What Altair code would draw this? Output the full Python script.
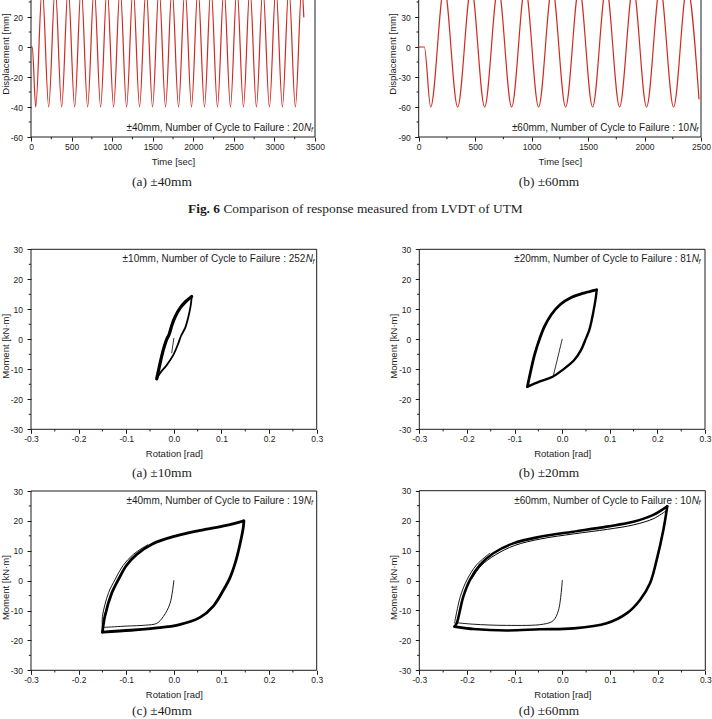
import altair as alt
import pandas as pd

FIG_W, FIG_H = 712, 719
SANS = "Liberation Sans"
SERIF = "Liberation Serif"
INK = "#1c1c1c"
RED = "#d02a22"
MINUS = "\u2212"

# ---------------------------------------------------------------
# Fig. 6 - UTM stroke history, turning points: time [s], displacement [mm]
# ---------------------------------------------------------------
hist40_time = [0, 16, 58, 138, 218, 298, 378, 458, 538, 618, 698, 778, 858, 938,
               1018, 1098, 1178, 1258, 1338, 1418, 1498, 1578, 1658, 1738, 1818,
               1898, 1978, 2058, 2138, 2218, 2298, 2378, 2458, 2538, 2618, 2698,
               2778, 2858, 2938, 3018, 3098, 3178, 3258, 3338, 3362]
hist40_disp = [0, 0, -40, 40, -40, 40, -40, 40, -40, 40, -40, 40, -40, 40,
               -40, 40, -40, 40, -40, 40, -40, 40, -40, 40, -40,
               40, -40, 40, -40, 40, -40, 40, -40, 40, -40, 40,
               -40, 40, -40, 40, -40, 40, -40, 40, 20]

hist60_time = [0, 50, 106, 226, 345, 465, 584, 704, 823, 943, 1062, 1182, 1301,
               1421, 1540, 1660, 1779, 1899, 2018, 2138, 2257, 2377, 2482]
hist60_disp = [0, 0, -60, 60, -60, 60, -60, 60, -60, 60, -60, 60, -60,
               60, -60, 60, -60, 60, -60, 60, -60, 60, -52]

# ---------------------------------------------------------------
# Fig. 7 - moment-rotation loops: rotation [rad], moment [kN.m]
# ---------------------------------------------------------------
# +-10 mm
m10_up_rot = [-0.036, -0.031, -0.023, -0.015, -0.010, -0.004, 0.003, 0.013, 0.025, 0.0375]
m10_up_mom = [-13.2, -9.5, -4.0, 0.0, 1.6, 4.8, 7.6, 10.4, 12.6, 14.3]
m10_dn_rot = [0.0375, 0.0355, 0.0305, 0.0235, 0.015, 0.0095, -0.001, -0.015, -0.029, -0.036]
m10_dn_mom = [14.3, 11.4, 7.5, 3.7, 1.1, -1.3, -5.2, -8.6, -11.3, -13.2]
m10_init_rot = [0.0, -0.0045]
m10_init_mom = [0.3, -4.5]

# +-20 mm
m20_up_rot = [-0.073, -0.067, -0.058, -0.047, -0.037, -0.023, -0.004, 0.020, 0.047, 0.0725]
m20_up_mom = [-15.8, -11.3, -5.2, 0.3, 4.3, 8.2, 11.6, 14.0, 15.5, 16.5]
m20_dn_rot = [0.0725, 0.071, 0.065, 0.057, 0.050, 0.0395, 0.0254, 0.001, -0.020, -0.048, -0.073]
m20_dn_mom = [16.5, 14.2, 8.7, 3.1, 0.3, -3.6, -6.9, -10.2, -12.5, -14.1, -15.8]
m20_init_rot = [0.0, -0.019]
m20_init_mom = [0.0, -12.5]

# +-40 mm
m40_up_rot = [-0.150, -0.145, -0.130, -0.116, -0.100, -0.078, -0.045, 0.005, 0.055, 0.110, 0.147]
m40_up_mom = [-17.2, -12.0, -4.0, 0.5, 5.0, 8.8, 12.3, 15.0, 16.8, 18.5, 20.0]
m40_dn_rot = [0.147, 0.146, 0.140, 0.130, 0.118, 0.104, 0.083, 0.055, 0.010, -0.040, -0.090, -0.150]
m40_dn_mom = [20.0, 18.0, 13.0, 6.5, 1.0, -3.2, -8.5, -12.3, -14.8, -15.9, -16.6, -17.2]
m40_first_rot = [-0.150, -0.150, -0.137, -0.123, -0.107, -0.085, -0.055]
m40_first_mom = [-15.6, -12.0, -4.0, 0.5, 5.0, 8.8, 12.0]
m40_init_rot = [0.0, -0.008, -0.022, -0.036, -0.060, -0.099, -0.145, -0.150]
m40_init_mom = [0.0, -7.6, -12.0, -14.3, -14.9, -15.2, -15.6, -15.6]

# +-60 mm
m60_up_rot = [-0.226, -0.2215, -0.2077, -0.1936, -0.1727, -0.1447, -0.103, -0.047,
              0.023, 0.093, 0.149, 0.191, 0.220]
m60_up_mom = [-15.4, -14.3, -5.4, 0.2, 5.2, 9.1, 12.4, 14.6, 16.3, 18.0, 19.6, 21.9, 24.8]
m60_dn_rot = [0.220, 0.219, 0.212, 0.198, 0.184, 0.163, 0.135, 0.093, 0.023, -0.047,
              -0.117, -0.187, -0.226]
m60_dn_mom = [24.8, 23.5, 16.9, 6.9, -0.9, -6.5, -11.0, -14.3, -16.0, -16.3, -16.7, -16.2, -15.4]
m60_late_rot = [-0.190, -0.170, -0.140, -0.100, -0.045, 0.025, 0.095, 0.150, 0.192, 0.217]
m60_late_mom = [0.6, 5.0, 8.6, 11.7, 13.9, 15.6, 17.1, 18.6, 20.7, 23.2]
m60_first_rot = [-0.226, -0.214, -0.200, -0.180, -0.152]
m60_first_mom = [-14.2, -5.4, 0.2, 5.2, 9.1]
m60_init_rot = [0.0, -0.008, -0.019, -0.040, -0.117, -0.187, -0.222]
m60_init_mom = [0.0, -9.9, -13.4, -14.6, -15.0, -14.6, -14.1]

# ---------------------------------------------------------------
# axis tick values (only the part of the top plots that is on the page)
# ---------------------------------------------------------------
time40_ticks = [0, 500, 1000, 1500, 2000, 2500, 3000, 3500]
time40_minor = [250, 750, 1250, 1750, 2250, 2750, 3250]
disp40_ticks = [-60, -40, -20, 0, 20]
disp40_minor = [-50, -30, -10, 10, 30]
time60_ticks = [0, 500, 1000, 1500, 2000, 2500]
time60_minor = [250, 750, 1250, 1750, 2250]
disp60_ticks = [-90, -60, -30, 0, 30]
disp60_minor = [-75, -45, -15, 15, 45]
rot_ticks = [-0.3, -0.2, -0.1, 0.0, 0.1, 0.2, 0.3]
rot_minor = [-0.25, -0.15, -0.05, 0.05, 0.15, 0.25]
mom_ticks = [-30, -20, -10, 0, 10, 20, 30]
mom_minor = [-25, -15, -5, 5, 15, 25]

# plot-area boxes on the page: left, right, bottom, top (pixels)
BOX_T40 = (31, 315, 137, -43)
BOX_T60 = (418.7, 701, 137, -43)
BOX_M10 = (31, 316.7, 429.3, 249.3)
BOX_M20 = (419.3, 705, 429.3, 249.3)
BOX_M40 = (31, 316.7, 670.3, 491)
BOX_M60 = (419.3, 705.3, 670.3, 490.7)


def make_panel(box, xdom, ydom, xt, xm, yt, ym, xfmt, yfmt, xtitle, ytitle, curves):
    """All layers of one panel; each layer carries the same scales."""
    x0, x1, yb, ytop = box

    def xs():
        return alt.Scale(domain=xdom, range=[x0, x1], nice=False, zero=False)

    def ys():
        return alt.Scale(domain=ydom, range=[yb, ytop], nice=False, zero=False)

    common = dict(
        domain=False, grid=False, tickSize=4, tickColor=INK, tickWidth=1,
        labelFont=SANS, labelFontSize=8.5, labelColor=INK,
        labelExpr=f"replace(datum.label, '{MINUS}', '-')",
        labelFlush=False, labelOverlap=False,
        titleFont=SANS, titleFontSize=9.5, titleFontWeight="normal", titleColor=INK,
        titleAlign="center", titleBaseline="middle",
    )
    xaxis = alt.Axis(orient="bottom", offset=yb - FIG_H, values=xt, format=xfmt,
                     labelPadding=1.5, title=xtitle, titleAngle=0,
                     titleX=(x0 + x1) / 2, titleY=24.5, **common)
    yaxis = alt.Axis(orient="left", offset=-x0, values=yt, format=yfmt,
                     labelPadding=4.5, title=ytitle, titleAngle=270,
                     titleX=-26, titleY=(yb + ytop) / 2 + 6.5, **common)

    frame_df = pd.DataFrame({"x": [xdom[0]], "x2": [xdom[1]], "y": [ydom[0]], "y2": [ydom[1]]})
    frame = alt.Chart(frame_df).mark_rect(filled=False, stroke=INK, strokeWidth=1).encode(
        x=alt.X("x:Q", scale=xs(), axis=xaxis), x2="x2:Q",
        y=alt.Y("y:Q", scale=ys(), axis=yaxis), y2="y2:Q",
    )
    xminor = alt.Chart(pd.DataFrame({"x": xm})).mark_rule(color=INK, strokeWidth=1).encode(
        x=alt.X("x:Q", scale=xs(), axis=None), y=alt.value(yb), y2=alt.value(yb + 2.2)
    )
    yminor = alt.Chart(pd.DataFrame({"y": ym})).mark_rule(color=INK, strokeWidth=1).encode(
        y=alt.Y("y:Q", scale=ys(), axis=None), x=alt.value(x0 - 2.2), x2=alt.value(x0)
    )
    layers = [frame, xminor, yminor]
    for cx, cy, color, width, interp in curves:
        df = pd.DataFrame({"x": cx, "y": cy, "i": list(range(len(cx)))})
        layers.append(
            alt.Chart(df).mark_line(color=color, strokeWidth=width, interpolate=interp,
                                    strokeJoin="round", strokeCap="round").encode(
                x=alt.X("x:Q", scale=xs(), axis=None),
                y=alt.Y("y:Q", scale=ys(), axis=None),
                order="i:Q",
            )
        )
    return layers


def text(s, x, y, size, font=SANS, align="center", style="normal", weight="normal", dy=0):
    return alt.Chart(pd.DataFrame({"s": [s]})).mark_text(
        font=font, fontSize=size, align=align, baseline="middle",
        fontStyle=style, fontWeight=weight, color=INK, dy=dy,
    ).encode(x=alt.value(x), y=alt.value(y), text="s:N")


def failure_note(amp, n, x_end, y):
    return [
        text(f"±{amp}mm, Number of Cycle to Failure : {n}", x_end - 9.6, y, 10, align="right"),
        text("N", x_end - 9.3, y, 10, align="left", style="italic"),
        text("f", x_end - 2.4, y, 7, align="left", style="italic", dy=2.6),
    ]


ROT = "Rotation [rad]"
MOM = "Moment [kN·m]"
CARD = "catmull-rom"

p40 = make_panel(BOX_T40, [0, 3500], [-60, 60], time40_ticks, time40_minor,
                 disp40_ticks, disp40_minor, "d", "d", "Time [sec]", "Displacement [mm]",
                 [(hist40_time, hist40_disp, RED, 1.2, "monotone")])
p60 = make_panel(BOX_T60, [0, 2500], [-90, 90], time60_ticks, time60_minor,
                 disp60_ticks, disp60_minor, "d", "d", "Time [sec]", "Displacement [mm]",
                 [(hist60_time, hist60_disp, RED, 1.2, "monotone")])
q10 = make_panel(BOX_M10, [-0.3, 0.3], [-30, 30], rot_ticks, rot_minor, mom_ticks, mom_minor,
                 ".1f", "d", ROT, MOM,
                 [(m10_up_rot, m10_up_mom, "#000", 3.2, CARD),
                  (m10_dn_rot, m10_dn_mom, "#000", 1.8, CARD),
                  (m10_init_rot, m10_init_mom, "#000", 0.8, "linear")])
q20 = make_panel(BOX_M20, [-0.3, 0.3], [-30, 30], rot_ticks, rot_minor, mom_ticks, mom_minor,
                 ".1f", "d", ROT, MOM,
                 [(m20_up_rot, m20_up_mom, "#000", 2.8, CARD),
                  (m20_dn_rot, m20_dn_mom, "#000", 2.4, CARD),
                  (m20_init_rot, m20_init_mom, "#000", 0.8, "linear")])
q40 = make_panel(BOX_M40, [-0.3, 0.3], [-30, 30], rot_ticks, rot_minor, mom_ticks, mom_minor,
                 ".1f", "d", ROT, MOM,
                 [(m40_up_rot, m40_up_mom, "#000", 2.8, CARD),
                  (m40_dn_rot, m40_dn_mom, "#000", 2.8, CARD),
                  (m40_first_rot, m40_first_mom, "#000", 0.9, CARD),
                  (m40_init_rot, m40_init_mom, "#000", 0.9, CARD)])
q60 = make_panel(BOX_M60, [-0.3, 0.3], [-30, 30], rot_ticks, rot_minor, mom_ticks, mom_minor,
                 ".1f", "d", ROT, MOM,
                 [(m60_up_rot, m60_up_mom, "#000", 2.6, CARD),
                  (m60_dn_rot, m60_dn_mom, "#000", 2.6, CARD),
                  (m60_late_rot, m60_late_mom, "#000", 1.0, CARD),
                  (m60_first_rot, m60_first_mom, "#000", 0.9, CARD),
                  (m60_init_rot, m60_init_mom, "#000", 0.9, CARD)])

notes = (failure_note(40, 20, 313.3, 127.7) + failure_note(60, 10, 698.7, 127.7)
         + failure_note(10, 252, 315, 259) + failure_note(20, 81, 701, 259)
         + failure_note(40, 19, 313.3, 500.7) + failure_note(60, 10, 701, 500.7))

CAP = 13.4
captions = [
    text("(a) ±40mm", 162, 182, CAP, font=SERIF),
    text("(b) ±60mm", 549, 182, CAP, font=SERIF),
    text("Fig. 6", 188, 208.5, CAP, font=SERIF, align="left", weight="bold"),
    text("Comparison of response measured from LVDT of UTM", 223.4, 208.5, CAP,
         font=SERIF, align="left"),
    text("(a) ±10mm", 162, 473, CAP, font=SERIF),
    text("(b) ±20mm", 549, 473, CAP, font=SERIF),
    text("(c) ±40mm", 162, 711, CAP, font=SERIF),
    text("(d) ±60mm", 549, 711, CAP, font=SERIF),
]

chart = (
    alt.layer(*p40, *p60, *q10, *q20, *q40, *q60, *notes, *captions)
    .resolve_scale(x="independent", y="independent")
    .resolve_axis(x="independent", y="independent")
    .properties(width=FIG_W, height=FIG_H, padding=0,
                autosize=alt.AutoSizeParams(type="none"))
    .configure_view(strokeWidth=0)
)

chart.save("out.html", embed_options={"renderer": "svg", "actions": False})
